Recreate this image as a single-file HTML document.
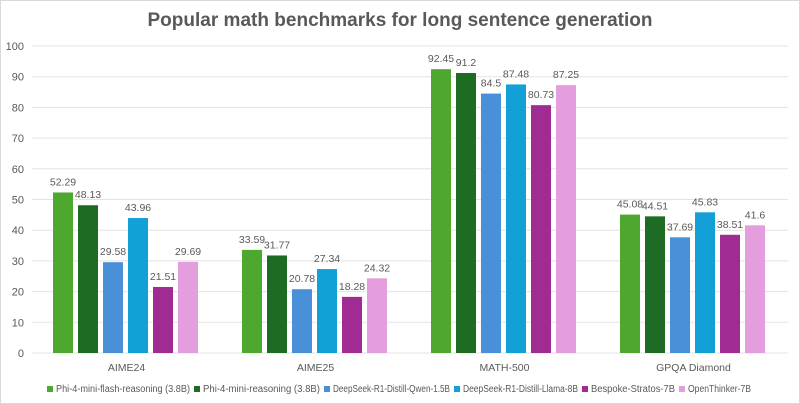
<!DOCTYPE html>
<html><head><meta charset="utf-8"><style>
html,body{margin:0;padding:0;background:#fff}
svg{display:block;font-family:"Liberation Sans",sans-serif}
</style></head><body>
<svg id="chart" width="800" height="404">
<rect x="0.5" y="0.5" width="799" height="403" fill="#fff" stroke="#d9d9d9"/>
<text x="400" y="26" text-anchor="middle" font-size="19" font-weight="bold" fill="#595959" textLength="505" lengthAdjust="spacingAndGlyphs">Popular math benchmarks for long sentence generation</text>
<g id="grid"></g><g id="bars"></g><g id="labels"></g><g id="legend"></g>
</svg>
<script>
const categories=["AIME24","AIME25","MATH-500","GPQA Diamond"];
const seriesNames=["Phi-4-mini-flash-reasoning (3.8B)","Phi-4-mini-reasoning (3.8B)","DeepSeek-R1-Distill-Qwen-1.5B","DeepSeek-R1-Distill-Llama-8B","Bespoke-Stratos-7B","OpenThinker-7B"];
const s1=[52.29,33.59,92.45,45.08];
const s2=[48.13,31.77,91.2,44.51];
const s3=[29.58,20.78,84.5,37.69];
const s4=[43.96,27.34,87.48,45.83];
const s5=[21.51,18.28,80.73,38.51];
const s6=[29.69,24.32,87.25,41.6];
const yTicks=[0,10,20,30,40,50,60,70,80,90,100];
const series=[s1,s2,s3,s4,s5,s6];
const colors=["#4ea72e","#1e6b24","#4a90d9","#12a0d7","#a02b93","#e59edd"];
const NS="http://www.w3.org/2000/svg";
const x0=32,x1=788,y0=353,y1=46;
const yScale=v=>y0-(v/100)*(y0-y1);
const gw=(x1-x0)/categories.length;
function el(t,a,p){const e=document.createElementNS(NS,t);for(const k in a)e.setAttribute(k,a[k]);document.getElementById(p).appendChild(e);return e;}
yTicks.forEach(t=>{
 const l=el("line",{x1:x0,x2:x1,y1:yScale(t),y2:yScale(t),stroke:"#e3e3e3","stroke-width":1},"grid");
 
 
 const tx=el("text",{x:24,y:yScale(t)+4,"text-anchor":"end","font-size":11,fill:"#595959"},"grid");
 tx.textContent=t;
 
 
});
categories.forEach((c,i)=>{
 const gx=x0+i*gw;
 series.forEach((s,j)=>{
  const bx=gx+21+j*25,v=s[i];
  const r=el("rect",{x:bx,y:yScale(v),width:20,height:y0-yScale(v),fill:colors[j]},"bars");
  
  
  const t=el("text",{x:bx+10,y:yScale(v)-7,"text-anchor":"middle","font-size":10.5,fill:"#595959"},"labels");
  t.textContent=v;
  
  
 });
 const t=el("text",{x:gx+gw/2,y:371,"text-anchor":"middle","font-size":10.5,fill:"#595959"},"labels");
 t.textContent=c;
 
 
});
const lx=[47,194,324,454,582,679];
const lw=[147,130,130,128,97,76];
seriesNames.forEach((n,j)=>{
 const r=el("rect",{x:lx[j],y:386,width:6,height:6,fill:colors[j]},"legend");
 
 
 const t=el("text",{x:lx[j]+9,y:392,"font-size":10,fill:"#595959",textLength:lw[j]-13,lengthAdjust:"spacingAndGlyphs"},"legend");
 t.textContent=n;
 
 
});
</script>
</body></html>
